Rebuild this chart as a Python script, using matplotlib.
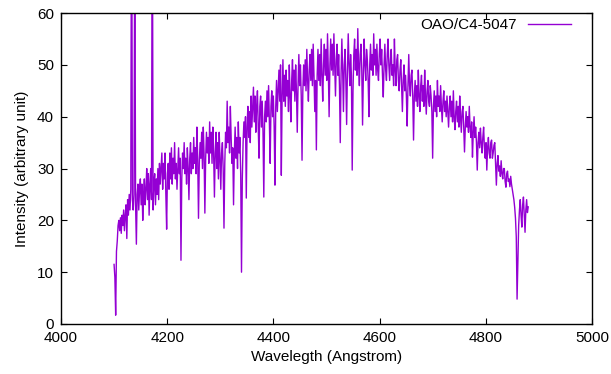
import numpy as np
import matplotlib
matplotlib.use("Agg")
import matplotlib.pyplot as plt

plt.rcParams['font.family'] = ['Liberation Sans', 'DejaVu Sans']

# spectrum sampled every 1.5 Angstrom from 4100 to 4880
start_wl = 4100
step_wl = 1.5
intensity = [
    # 4100 - 4128.5
    11.5, 9, 1.7, 14, 16, 19, 20, 18, 20.5, 17.5, 21, 19, 22, 18, 21, 23, 16.5, 24, 21, 25,
    # 4130 - 4158.5 (two emission spikes)
    22, 26, 95, 24, 22, 25, 80, 23, 15.4, 25, 27, 22, 26, 28, 23, 27, 20, 25, 28, 23,
    # 4160 - 4188.5 (one emission spike)
    26, 30, 24, 29, 21, 27, 30, 24, 90, 22, 27, 29, 23, 28, 25, 30, 24, 31, 27, 30,
    # 4190 - 4218.5
    33, 26, 31, 28, 33, 25, 18.3, 29, 31, 26, 33, 28, 34, 27, 32, 29, 35, 28, 31, 26,
    # 4220 - 4248.5
    30, 34, 29, 32, 12.3, 28, 33, 30, 35, 29, 32, 27, 34, 30, 24, 32, 35, 29, 33, 30,
    # 4250 - 4278.5
    36, 31, 34, 29, 38, 32, 20.4, 31, 35, 32, 37, 30, 38, 33, 21.4, 32, 37, 33, 36, 31,
    # 4280 - 4308.5
    39, 33, 37, 31, 38, 33, 24.5, 33, 37, 30, 35, 28, 37, 32, 26, 33, 35, 30, 18.5, 31,
    # 4310 - 4338.5
    37, 34, 43, 35, 38, 33, 42, 36, 31, 34, 23, 33, 38, 32, 36, 30, 39, 33, 36, 29,
    # 4340 - 4368.5 (H gamma)
    10, 28, 35, 39, 36, 40, 24.3, 38, 42, 36, 41, 35, 44, 38, 42, 45.7, 39, 44, 37, 42,
    # 4370 - 4398.5
    45, 38, 32, 42, 44, 38, 43, 37, 24.5, 40, 43, 39, 45, 40, 46, 39, 31, 42, 45, 40,
    # 4400 - 4428.5
    44, 38, 26.8, 42, 47, 41, 45, 49, 43, 50, 28.7, 44, 51, 43, 48, 42, 49, 44, 47, 41,
    # 4430 - 4458.5
    50, 44, 39, 47, 51, 45, 49, 43, 50, 45, 37, 46, 52, 46, 50, 44, 31.6, 45, 50, 46,
    # 4460 - 4488.5
    51, 45, 53, 47, 43, 49, 52, 47, 53, 46, 54, 48, 41, 47, 33.6, 48, 53, 47, 52, 46,
    # 4490 - 4518.5
    55, 48, 43, 50, 54, 48, 53, 47, 56, 49, 40, 50, 55, 49, 54, 48, 56, 50, 44, 51,
    # 4520 - 4548.5
    54, 48, 52, 46, 35, 48, 55, 49, 41, 50, 53, 47, 38.5, 49, 56, 50, 46, 52, 48, 29.7,
    # 4550 - 4578.5
    45, 52, 55, 49, 53, 48, 57, 50, 46, 52, 54, 49, 38.4, 48, 55, 50, 47, 53, 51, 47,
    # 4580 - 4608.5
    40, 50, 54, 49, 52, 48, 56, 50, 53, 48, 54, 49, 47, 52, 55, 50, 53, 48, 43.8, 50,
    # 4610 - 4638.5
    54, 49, 47, 52, 55, 50, 47, 51, 53, 48, 50, 46, 55, 49, 46, 51, 52, 47, 45, 49,
    # 4640 - 4668.5
    51, 46, 41, 47, 50, 45, 48, 44, 38.2, 46, 52, 46, 44, 48, 49, 44, 35.5, 44, 47, 43,
    # 4670 - 4698.5
    46, 42, 49, 44, 41, 46, 48, 43, 46, 42, 49, 44, 40.5, 45, 47, 43, 42, 46, 44, 41,
    # 4700 - 4728.5
    32, 42, 45, 41, 44, 40, 47, 42, 44, 41, 46, 42, 39, 43, 45, 41, 43, 40, 44, 41,
    # 4730 - 4758.5
    38, 42, 44, 40, 43, 39, 45, 40, 37.5, 41, 43, 39, 42, 38, 44, 40, 37, 41, 42, 38,
    # 4760 - 4788.5
    33.2, 38, 41, 38, 40, 37, 42, 38, 36, 39, 32.2, 37, 40, 36, 38, 35, 29.7, 35, 37, 34,
    # 4790 - 4818.5
    37.8, 35, 33, 36, 38, 34, 32, 35, 29.7, 34, 36, 33, 32, 35, 35.5, 32, 33, 34.5, 35, 31,
    # 4820 - 4848.5
    26.8, 31, 32.5, 29.5, 30.5, 28.5, 31.5, 29, 28, 30, 30, 27.5, 26.4, 29, 29.5, 27.5, 28, 26.5, 28.5, 27,
    # 4850 - 4880 (H beta)
    26, 25, 24, 22.5, 20.4, 16.8, 4.8, 12, 19, 22, 24, 21, 18.7, 23, 24.5, 21, 17.7, 22, 24, 21.5, 22.6,
]
wavelength = start_wl + step_wl * np.arange(len(intensity))

fig = plt.figure(figsize=(6.11, 3.74), dpi=100)
ax = fig.add_axes([0.0998, 0.1337, 0.869, 0.8313])

ax.plot(wavelength, intensity, color='#9400D3', lw=1.0, label='OAO/C4-5047')

ax.set_xlim(4000, 5000)
ax.set_ylim(0, 60)
ax.set_xticks([4000, 4200, 4400, 4600, 4800, 5000])
ax.set_yticks([0, 10, 20, 30, 40, 50, 60])
ax.tick_params(direction='in', top=True, right=True, length=4.5, width=0.8,
               labelsize=11, pad=5)
for sp in ax.spines.values():
    sp.set_linewidth(1.0)

ax.set_xlabel('Wavelegth (Angstrom)', fontsize=11, labelpad=4)
ax.set_ylabel('Intensity (arbitrary unit)', fontsize=11, labelpad=6)

ax.legend(loc='upper right', bbox_to_anchor=(0.960, 0.984), frameon=False,
          markerfirst=False, fontsize=11, handlelength=2.8, handletextpad=0.7,
          borderpad=0, borderaxespad=0)

fig.savefig('out.png', dpi=100)
